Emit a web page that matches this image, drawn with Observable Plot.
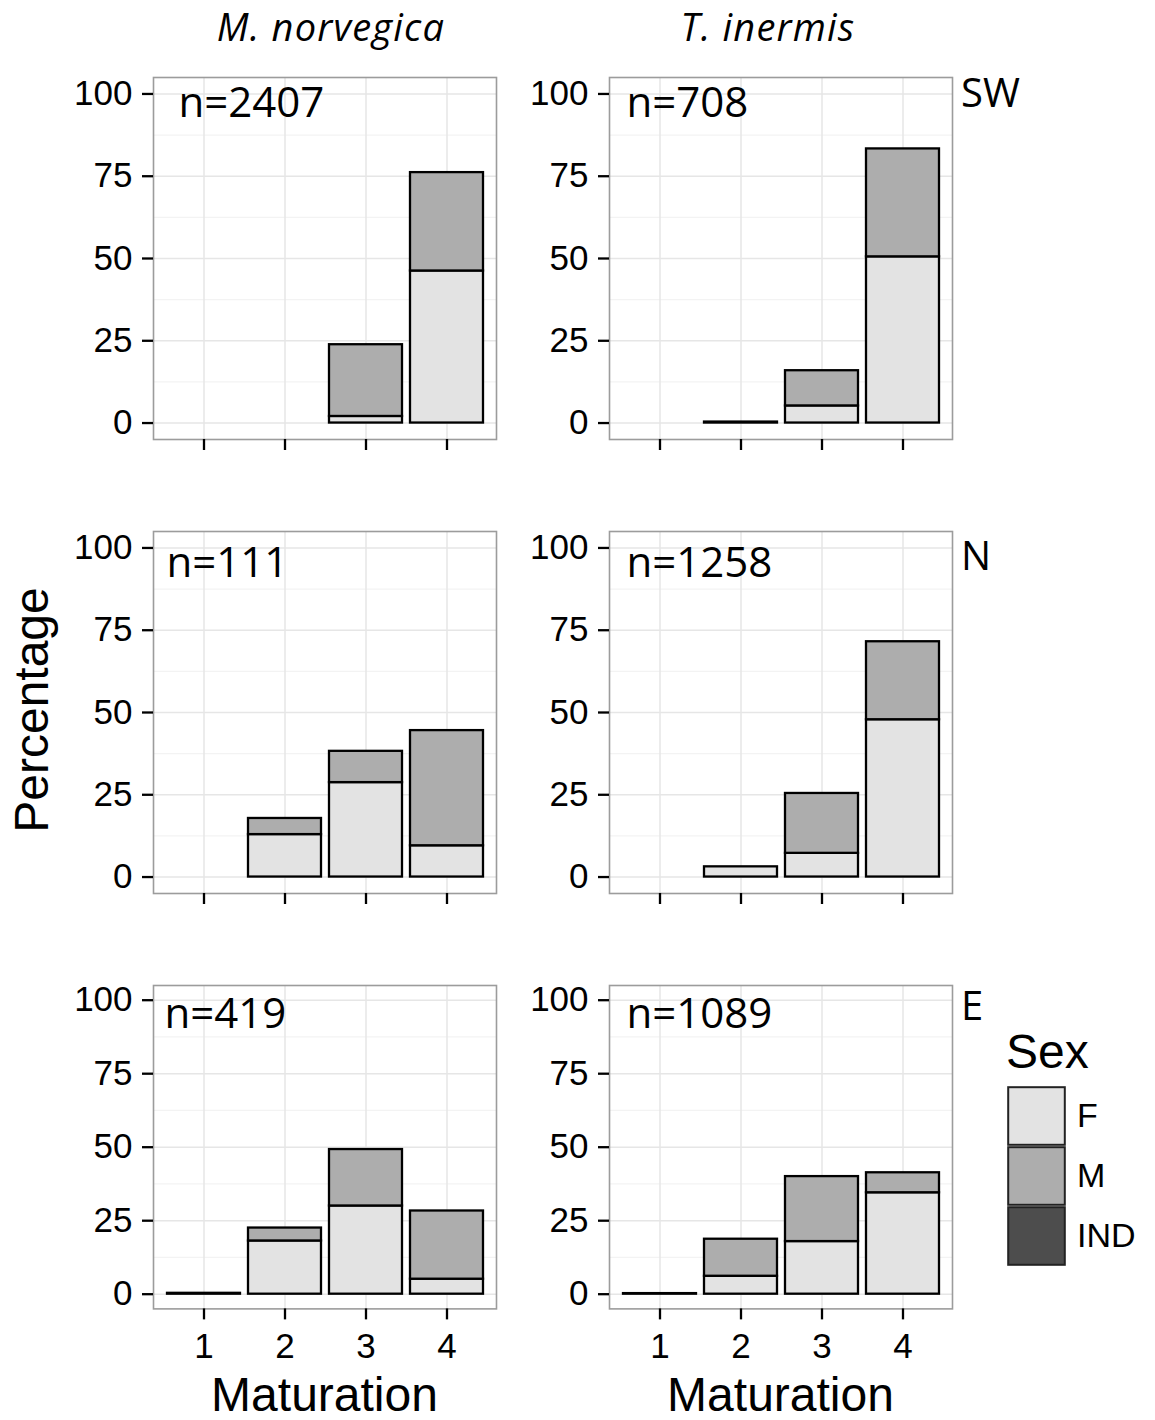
<!DOCTYPE html>
<html><head><meta charset="utf-8">
<script src="https://cdn.jsdelivr.net/npm/d3@7"></script>
<script src="https://cdn.jsdelivr.net/npm/@observablehq/plot@0.6"></script>
<style>
body{margin:0;background:#fff;}
#chart{position:relative;width:1155px;height:1420px;overflow:hidden;background:#fff;}
#chart svg{position:absolute;}
</style></head><body><div id="chart"></div>
<script>
// ---------- data ----------
const species = ["M. norvegica", "T. inermis"];
const regions = ["SW", "N", "E"];
const maturation = [1, 2, 3, 4];
const sexes = ["F", "M", "IND"];
const sexColors = ["#e3e3e3", "#adadad", "#4d4d4d"];
const sampleSizes = [[2407, 708], [111, 1258], [419, 1089]];
const yTicks = [0, 25, 50, 75, 100];
const yMinorTicks = [12.5, 37.5, 62.5, 87.5];

// percentage per maturation stage 1..4
const SW_Mnorvegica_F   = [0, 0, 2.0, 46.2];
const SW_Mnorvegica_M   = [0, 0, 21.8, 29.9];
const SW_Mnorvegica_IND = [0, 0, 0, 0];
const SW_Tinermis_F     = [0, 0, 5.2, 50.5];
const SW_Tinermis_M     = [0, 0, 10.7, 32.8];
const SW_Tinermis_IND   = [0, 0.3, 0, 0];
const N_Mnorvegica_F    = [0, 12.9, 28.7, 9.5];
const N_Mnorvegica_M    = [0, 4.9, 9.5, 35.0];
const N_Mnorvegica_IND  = [0, 0, 0, 0];
const N_Tinermis_F      = [0, 3.1, 7.2, 47.8];
const N_Tinermis_M      = [0, 0, 18.2, 23.7];
const N_Tinermis_IND    = [0, 0, 0, 0];
const E_Mnorvegica_F    = [0, 18.1, 30.0, 5.1];
const E_Mnorvegica_M    = [0, 4.4, 19.2, 23.2];
const E_Mnorvegica_IND  = [0.3, 0, 0, 0];
const E_Tinermis_F      = [0, 6.1, 17.9, 34.5];
const E_Tinermis_M      = [0, 12.6, 22.1, 6.8];
const E_Tinermis_IND    = [0.2, 0, 0, 0];

const series = [
  [[SW_Mnorvegica_F, SW_Mnorvegica_M, SW_Mnorvegica_IND], [SW_Tinermis_F, SW_Tinermis_M, SW_Tinermis_IND]],
  [[N_Mnorvegica_F, N_Mnorvegica_M, N_Mnorvegica_IND], [N_Tinermis_F, N_Tinermis_M, N_Tinermis_IND]],
  [[E_Mnorvegica_F, E_Mnorvegica_M, E_Mnorvegica_IND], [E_Tinermis_F, E_Tinermis_M, E_Tinermis_IND]]
];

// ---------- layout ----------
const panelLeft = [153, 609];
const panelWidth = 343;
const rowTop = [77.3, 531, 985.3];
const rowHeight = [362, 362, 323.4];
const nLabelOffset = [[[25, 39.4], [17, 39.4]], [[13, 45.7], [17, 45.7]], [[11, 42.4], [17, 42.4]]];
const arial = "'Liberation Sans', Arial, sans-serif";
const sans = "'Open Sans', sans-serif";

const chart = document.getElementById("chart");
const ml = 100, mt = 2, mr = 2;

regions.forEach((region, r) => {
  species.forEach((sp, c) => {
    const data = [];
    sexes.forEach((sex, s) => {
      maturation.forEach((m, i) => {
        const v = series[r][c][s][i];
        if (v > 0) data.push({mat: m, sex, value: v});
      });
    });
    const mb = r === 2 ? 64 : 16;
    const h = rowHeight[r];
    const [dx, dy] = nLabelOffset[r][c];
    const plot = Plot.plot({
      width: ml + panelWidth + mr,
      height: mt + h + mb,
      marginLeft: ml, marginTop: mt, marginRight: mr, marginBottom: mb,
      x: {type: "band", domain: maturation, paddingInner: 0.1, paddingOuter: 0.15, label: null},
      y: {domain: [-5, 105], label: null},
      color: {domain: sexes, range: sexColors},
      style: {fontFamily: arial, fontSize: "35px", color: "#000", background: "transparent", overflow: "visible"},
      marks: [
        Plot.ruleY(yMinorTicks, {stroke: "#f3f3f3", strokeWidth: 1.2}),
        Plot.ruleY(yTicks, {stroke: "#e6e6e6", strokeWidth: 1.5}),
        Plot.ruleX(maturation, {stroke: "#e6e6e6", strokeWidth: 1.5}),
        Plot.barY(data, {x: "mat", y: "value", fill: "sex", stroke: "#000", strokeWidth: 2.3}),
        Plot.frame({stroke: "#9c9c9c", strokeWidth: 1.6}),
        Plot.axisY({ticks: yTicks, tickSize: 11, tickPadding: 10, strokeWidth: 2.3, label: null,
                    fontFamily: arial, fontSize: 35, fill: "#000", stroke: "#000"}),
        Plot.axisX({tickSize: 11, tickPadding: 13, strokeWidth: 2.3, label: null,
                    fontFamily: arial, fontSize: 35, fill: "#000", stroke: "#000",
                    tickFormat: r === 2 ? (d => String(d)) : (() => "")}),
        Plot.text([`n=${sampleSizes[r][c]}`], {frameAnchor: "top-left", dx, dy, text: d => d, textAnchor: "start", lineAnchor: "bottom", fontSize: 42, fontFamily: sans, fill: "#000"})
      ]
    });
    plot.style.left = (panelLeft[c] - ml) + "px";
    plot.style.top = (rowTop[r] - mt) + "px";
    chart.appendChild(plot);
  });
});

// legend
const legend = Plot.plot({
  width: 155, height: 260, margin: 0,
  x: {type: "band", domain: ["key"], range: [7, 66], padding: 0, axis: null},
  y: {type: "band", domain: sexes, range: [65.7, 247], padding: 0, axis: null},
  color: {domain: sexes, range: sexColors},
  style: {fontFamily: arial, background: "transparent", overflow: "visible"},
  marks: [
    Plot.cell(sexes, {x: () => "key", y: d => d, fill: d => d, stroke: "#222", strokeWidth: 2, inset: 1.2}),
    Plot.text(sexes, {x: () => "key", y: d => d, text: d => d, dx: 40, textAnchor: "start", fontSize: 34, fontFamily: arial, fill: "#000"})
  ]
});
legend.style.left = "1000px";
legend.style.top = "1020px";
chart.appendChild(legend);

// titles overlay
const svg = d3.select(chart).append("svg")
  .attr("width", 1155).attr("height", 1420)
  .style("left", "0px").style("top", "0px").style("pointer-events", "none");
const speciesX = [331, 768];
species.forEach((sp, c) => {
  svg.append("text").attr("x", speciesX[c]).attr("y", 41).attr("text-anchor", "middle")
    .attr("font-family", sans).attr("font-style", "italic").attr("font-size", 38)
    .attr("letter-spacing", 1.2)
    .text(sp);
  svg.append("text").attr("x", panelLeft[c] + panelWidth / 2).attr("y", 1411).attr("text-anchor", "middle")
    .attr("font-family", arial).attr("font-size", 48)
    .text("Maturation");
});
const regionY = [107, 570, 1020];
regions.forEach((rg, r) => {
  svg.append("text").attr("x", 961).attr("y", regionY[r])
    .attr("font-family", sans).attr("font-size", 40).text(rg);
});
svg.append("text").attr("transform", "translate(48,710) rotate(-90)").attr("text-anchor", "middle")
  .attr("font-family", arial).attr("font-size", 48).text("Percentage");
svg.append("text").attr("x", 1006).attr("y", 1068)
  .attr("font-family", arial).attr("font-size", 48).text("Sex");
</script></body></html>
